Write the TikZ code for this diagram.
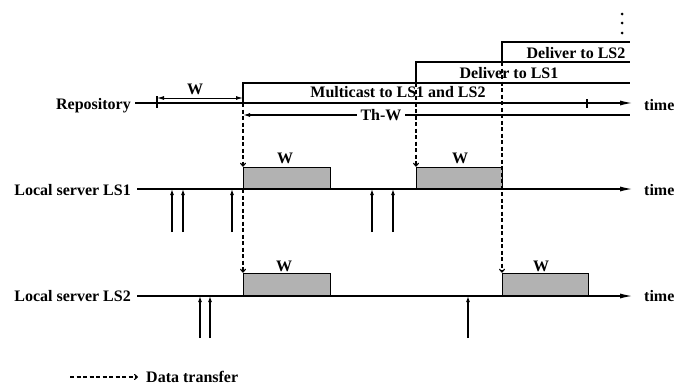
\documentclass[tikz,border=0pt]{standalone}
\usepackage{fontspec}
\setmainfont{Liberation Serif}
\usetikzlibrary{arrows.meta}
\begin{document}
\begin{tikzpicture}[x=1pt,y=-1pt,
  lbl/.style={font=\bfseries\fontsize{16}{18}\selectfont, inner sep=0pt},
  tl/.style={line width=1.5pt, -{Latex[length=13pt,width=5pt]}},
  edge/.style={line width=1.3pt},
  tick/.style={line width=1.1pt},
  shbox/.style={draw, line width=1.3pt, fill=black!30},
  req/.style={line width=1.2pt, -{Latex[length=6pt,width=4pt]}},
  xfer/.style={line width=1.1pt, dash pattern=on 4pt off 2.5pt, -{To[length=4pt,width=6pt]}},
  dimarr/.style={line width=1pt, {Latex[length=7pt,width=4pt]}-{Latex[length=7pt,width=4pt]}},
  dimleft/.style={line width=1.2pt, {Latex[length=7pt,width=4pt]}-}]
\useasboundingbox (0,0) rectangle (678,391);

% ---- labels
\node[lbl, anchor=base east] (rep) at (131,109) {Repository};
\node[lbl, anchor=base east] (ls1) at (131,195) {Local server LS1};
\node[lbl, anchor=base east] (ls2) at (131,301) {Local server LS2};
\node[lbl, anchor=base west] (t0) at (644,110) {time};
\node[lbl, anchor=base west] (t1) at (644,195) {time};
\node[lbl, anchor=base west] (t2) at (644,301) {time};

% ---- timelines
\coordinate (r0) at (135,103); \coordinate (r1) at (633,103);
\coordinate (a0) at (137,189); \coordinate (a1) at (633,189);
\coordinate (b0) at (137,296); \coordinate (b1) at (633,296);
\draw[tl] (r0) -- (r1);
\draw[tl] (a0) -- (a1);
\draw[tl] (b0) -- (b1);

% ---- repository steps
\coordinate (m0) at (243,103); \coordinate (m1) at (243,83); \coordinate (m2) at (630,83);
\coordinate (d0) at (416,83); \coordinate (d1) at (416,62); \coordinate (d2) at (630,62);
\coordinate (e0) at (502,62); \coordinate (e1) at (502,42); \coordinate (e2) at (630,42);
\draw[edge] (m0) -- (m1) -- (m2);
\draw[edge] (d0) -- (d1) -- (d2);
\draw[edge] (e0) -- (e1) -- (e2);
\node[lbl, anchor=base] (mc) at (398,97) {Multicast to LS1 and LS2};
\node[lbl, anchor=base] (dl1) at (509,78) {Deliver to LS1};
\node[lbl, anchor=base] (dl2) at (576,58) {Deliver to LS2};
\fill (622,14) circle (1.5pt);
\fill (622,23) circle (1.5pt);
\fill (622,33) circle (1.5pt);

% ---- W window on repository
\coordinate (w0) at (157,98); \coordinate (w1) at (243,98);
\draw[tick] (157,96) -- (157,108);
\draw[dimarr] (w0) -- (w1);
\node[lbl, anchor=base] (wr) at (195,94) {W};
\draw[tick] (587,99) -- (587,108);

% ---- Th-W
\coordinate (h0) at (243,115); \coordinate (h1) at (630,115);
\draw[dimleft] (h0) -- (h1);
\node[lbl, anchor=base, fill=white, inner xsep=4pt, inner ysep=1pt] (thw) at (381,120) {Th-W};

% ---- shaded boxes
\node[shbox, anchor=south west, minimum width=87pt, minimum height=21pt] (p11) at (243,189) {};
\node[shbox, anchor=south west, minimum width=86pt, minimum height=21pt] (p12) at (416,189) {};
\node[shbox, anchor=south west, minimum width=87pt, minimum height=22pt] (p21) at (243,296) {};
\node[shbox, anchor=south west, minimum width=86pt, minimum height=22pt] (p22) at (502,296) {};
\node[lbl, anchor=base] (w11) at (285,163) {W};
\node[lbl, anchor=base] (w12) at (460,163) {W};
\node[lbl, anchor=base] (w21) at (284,271) {W};
\node[lbl, anchor=base] (w22) at (541,271) {W};

% ---- data transfers
\draw[xfer] (m0) -- (p11.north west);
\draw[xfer] (p11.south west) -- (p21.north west);
\draw[xfer] (d0) -- (p12.north west);
\draw[xfer] (e0) -- (p22.north west);

% ---- requests LS1
\foreach \x in {172,183,232,372,393}
  \draw[req] (\x,232) -- (\x,189);
% ---- requests LS2
\foreach \x in {200,210,468}
  \draw[req] (\x,338) -- (\x,296);

% ---- legend
\coordinate (g0) at (70,377); \coordinate (g1) at (138,377);
\draw[xfer] (g0) -- (g1);
\node[lbl, anchor=base west] (gl) at (146,382) {Data transfer};
\end{tikzpicture}
\end{document}
